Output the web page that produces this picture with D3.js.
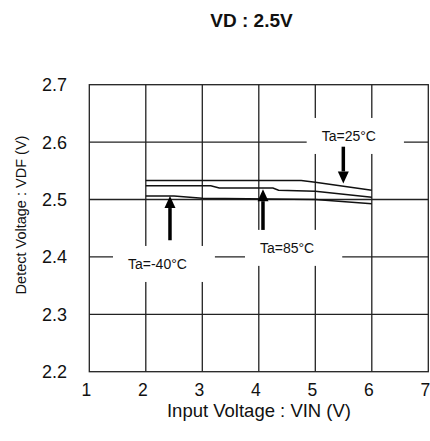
<!DOCTYPE html>
<html><head><meta charset="utf-8">
<script src="https://cdn.jsdelivr.net/npm/d3@7"></script>
<style>html,body{margin:0;padding:0;background:#fff;}svg{display:block;font-family:Arial,"Liberation Sans",sans-serif;}</style>
</head><body>
<script>
// ---- data ----
const xTicks = [1, 2, 3, 4, 5, 6, 7];
const yTicks = [2.2, 2.3, 2.4, 2.5, 2.6, 2.7];
const title = "VD : 2.5V";
const xTitle = "Input Voltage : VIN (V)";
const yTitle = "Detect Voltage : VDF (V)";

const vin25 = [2, 4.75, 5.0, 6];
const vdf25 = [2.533, 2.533, 2.530, 2.516];

const vin85 = [2, 3.15, 3.3, 4.25, 4.35, 5.0, 6];
const vdf85 = [2.524, 2.524, 2.520, 2.520, 2.516, 2.5145, 2.504];

const vinM40 = [2, 2.5, 3, 5, 6];
const vdfM40 = [2.506, 2.506, 2.502, 2.5, 2.4925];

const labels = ["Ta=25°C", "Ta=85°C", "Ta=-40°C"];
const labelX = [5.113, 4.021, 1.685];
const labelY = [2.602, 2.407, 2.379];
const arrowX = [5.496, 4.074, 2.428];
const arrowFrom = [2.592, 2.447, 2.429];
const arrowTo = [2.528, 2.518, 2.506];

// ---- layout ----
const W = 430, H = 441;
const svg = d3.select("body").append("svg").attr("width", W).attr("height", H);
const x = d3.scaleLinear().domain([1, 7]).range([89.3, 428.3]);
const y = d3.scaleLinear().domain([2.2, 2.7]).range([371.7, 84.7]);
const ink = "#222";

// gridlines
const g = svg.append("g");
g.selectAll(".vg").data(xTicks.slice(1, -1)).enter().append("line")
  .attr("x1", d => x(d)).attr("x2", d => x(d)).attr("y1", y(2.7)).attr("y2", y(2.2))
  .attr("stroke", ink).attr("stroke-width", 1.3);
g.selectAll(".hg").data(yTicks.slice(1, -1)).enter().append("line")
  .attr("x1", x(1)).attr("x2", x(7)).attr("y1", d => y(d)).attr("y2", d => y(d))
  .attr("stroke", ink).attr("stroke-width", 1.3);

// label boxes (white) covering gridlines
const lblG = svg.append("g");
const texts = labels.map((t, i) => lblG.append("text")
  .attr("x", x(labelX[i])).attr("y", y(labelY[i]))
  .attr("font-size", 14).attr("fill", "#111").text(t));
texts.forEach(t => {
  const b = t.node().getBBox();
  lblG.insert("rect", "text")
    .attr("x", b.x - 15).attr("y", b.y - 10)
    .attr("width", b.width + 43).attr("height", b.height + 20)
    .attr("fill", "#fff");
});

// border
svg.append("rect").attr("x", x(1)).attr("y", y(2.7))
  .attr("width", x(7) - x(1)).attr("height", y(2.2) - y(2.7))
  .attr("fill", "none").attr("stroke", ink).attr("stroke-width", 1.3);

// curves
const line = d3.line().x(d => x(d[0])).y(d => y(d[1]));
[[vin25, vdf25], [vin85, vdf85], [vinM40, vdfM40]].forEach(([xs, ys]) => {
  svg.append("path").datum(xs.map((v, i) => [v, ys[i]]))
    .attr("d", line).attr("fill", "none").attr("stroke", "#111").attr("stroke-width", 1.5);
});

// arrows
arrowX.forEach((ax, i) => {
  const px = x(ax), y0 = y(arrowFrom[i]), y1 = y(arrowTo[i]);
  const dir = y1 > y0 ? 1 : -1;
  const hl = 12, hw = 5.5;
  svg.append("line").attr("x1", px).attr("x2", px).attr("y1", y0).attr("y2", y1 - dir * hl)
    .attr("stroke", "#000").attr("stroke-width", 3.5);
  svg.append("path").attr("d", `M${px},${y1} L${px - hw},${y1 - dir * hl} L${px + hw},${y1 - dir * hl} Z`)
    .attr("fill", "#000");
});

// axis tick labels
svg.selectAll(".yt").data(yTicks).enter().append("text")
  .attr("x", 67).attr("y", d => y(d)).attr("dy", "0.36em")
  .attr("text-anchor", "end").attr("font-size", 18).attr("fill", "#111").text(d => d.toFixed(1));
svg.selectAll(".xt").data(xTicks).enter().append("text")
  .attr("x", d => x(d) - 3).attr("y", 396)
  .attr("text-anchor", "middle").attr("font-size", 17.5).attr("fill", "#111").text(d => d);

// titles
svg.append("text").attr("x", 251.5).attr("y", 27).attr("text-anchor", "middle")
  .attr("font-size", 19).attr("font-weight", "bold").attr("fill", "#111").text(title);
svg.append("text").attr("x", 259).attr("y", 417).attr("text-anchor", "middle")
  .attr("font-size", 18.5).attr("fill", "#111").text(xTitle);
svg.append("text").attr("transform", "translate(25.5,215) rotate(-90)").attr("text-anchor", "middle")
  .attr("font-size", 14.5).attr("fill", "#111").text(yTitle);
</script>
</body></html>
